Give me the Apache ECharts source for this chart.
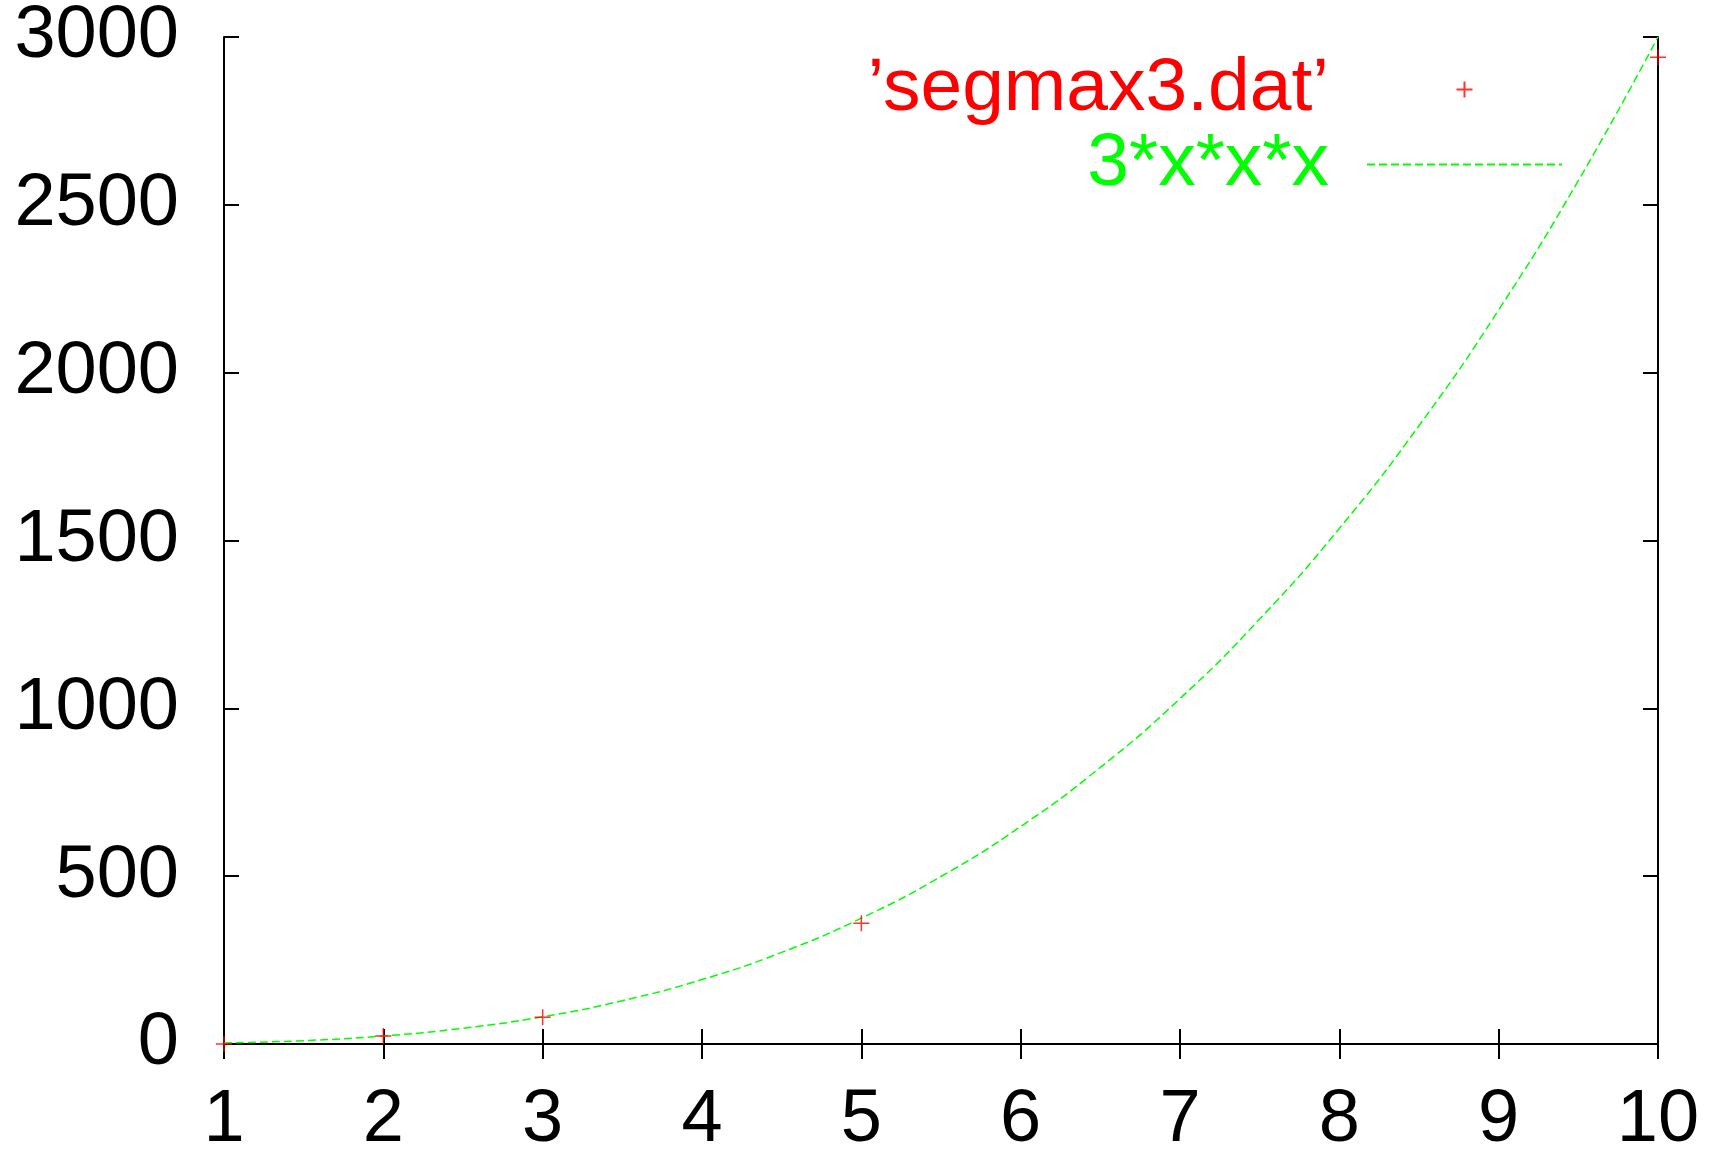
<!DOCTYPE html>
<html>
<head>
<meta charset="utf-8">
<script src="https://cdn.jsdelivr.net/npm/echarts@6/dist/echarts.min.js"></script>
<style>
html,body{margin:0;padding:0;background:#fff;}
#chart{width:1718px;height:1158px;}
</style>
</head>
<body>
<div id="chart"></div>
<script>
// Data
const dataX = [1, 2, 3, 5, 10];
const dataY = [0, 24, 80, 360, 2940];
const curveX = [1, 1.5, 2, 2.5, 3, 3.5, 4, 4.5, 5, 5.5, 6, 6.5, 7, 7.5, 8, 8.5, 9, 9.5, 10];
const curveY = [3, 10, 24, 47, 81, 129, 192, 273, 375, 499, 648, 824, 1029, 1266, 1536, 1842, 2187, 2572, 3000];
const seriesNames = ["\u2019segmax3.dat\u2019", "3*x*x*x"];
const xTicks = [1, 2, 3, 4, 5, 6, 7, 8, 9, 10];
const yTicks = [0, 500, 1000, 1500, 2000, 2500, 3000];

const FONT = 'Liberation Sans';
const crossPath = 'path://M0,8L16,8M8,0L8,16';

const chart = echarts.init(document.getElementById('chart'), null, {renderer: 'canvas'});

const axisLineStyle = {show: true, lineStyle: {color: '#000', width: 2}};
const tickStyle = {show: true, inside: true, length: 15, lineStyle: {color: '#000', width: 2}};

const option = {
  backgroundColor: '#fff',
  animation: false,
  grid: {left: 224, right: 60, top: 37, bottom: 106, containLabel: false},
  legend: {
    orient: 'vertical',
    right: 150,
    top: 47,
    align: 'right',
    itemWidth: 195,
    itemHeight: 16,
    itemGap: 0,
    symbolKeepAspect: true,
    selectedMode: false,
    textStyle: {fontFamily: FONT, fontSize: 75, lineHeight: 74, padding: [0, 33, 0, 0]},
    data: [
      {name: seriesNames[0], textStyle: {color: '#ff0000'}},
      {name: seriesNames[1], textStyle: {color: '#00ff00'}, itemStyle: {opacity: 0}}
    ]
  },
  xAxis: [
    {
      type: 'value', min: 1, max: 10, interval: 1, position: 'bottom',
      axisLine: axisLineStyle, axisTick: tickStyle, splitLine: {show: false},
      axisLabel: {
        fontFamily: FONT, fontSize: 74, color: '#000', margin: 40,
        formatter: v => xTicks.includes(v) ? String(v) : ''
      }
    },
    {
      type: 'value', min: 1, max: 10, interval: 1, position: 'top',
      axisLine: axisLineStyle, axisTick: tickStyle, splitLine: {show: false},
      axisLabel: {show: false}
    }
  ],
  yAxis: [
    {
      type: 'value', min: 0, max: 3000, interval: 500, position: 'left',
      axisLine: axisLineStyle, axisTick: tickStyle, splitLine: {show: false},
      axisLabel: {
        fontFamily: FONT, fontSize: 74, color: '#000', margin: 45,
        formatter: v => yTicks.includes(v) ? String(v) : ''
      }
    },
    {
      type: 'value', min: 0, max: 3000, interval: 500, position: 'right',
      axisLine: axisLineStyle, axisTick: tickStyle, splitLine: {show: false},
      axisLabel: {show: false}
    }
  ],
  series: [
    {
      name: seriesNames[0],
      type: 'scatter',
      xAxisIndex: 0, yAxisIndex: 0,
      symbol: crossPath,
      symbolSize: 16,
      itemStyle: {color: 'rgba(0,0,0,0)', borderColor: '#ff0000', borderWidth: 1.5},
      data: dataX.map((x, i) => [x, dataY[i]]),
      z: 3
    },
    {
      name: seriesNames[1],
      type: 'line',
      xAxisIndex: 0, yAxisIndex: 0,
      smooth: true,
      showSymbol: false,
      symbol: 'none',
      color: '#00ff00',
      lineStyle: {color: '#00ff00', width: 1.5, type: [8, 4]},
      data: curveX.map((x, i) => [x, curveY[i]]),
      z: 2
    }
  ]
};
chart.setOption(option);
</script>
</body>
</html>
